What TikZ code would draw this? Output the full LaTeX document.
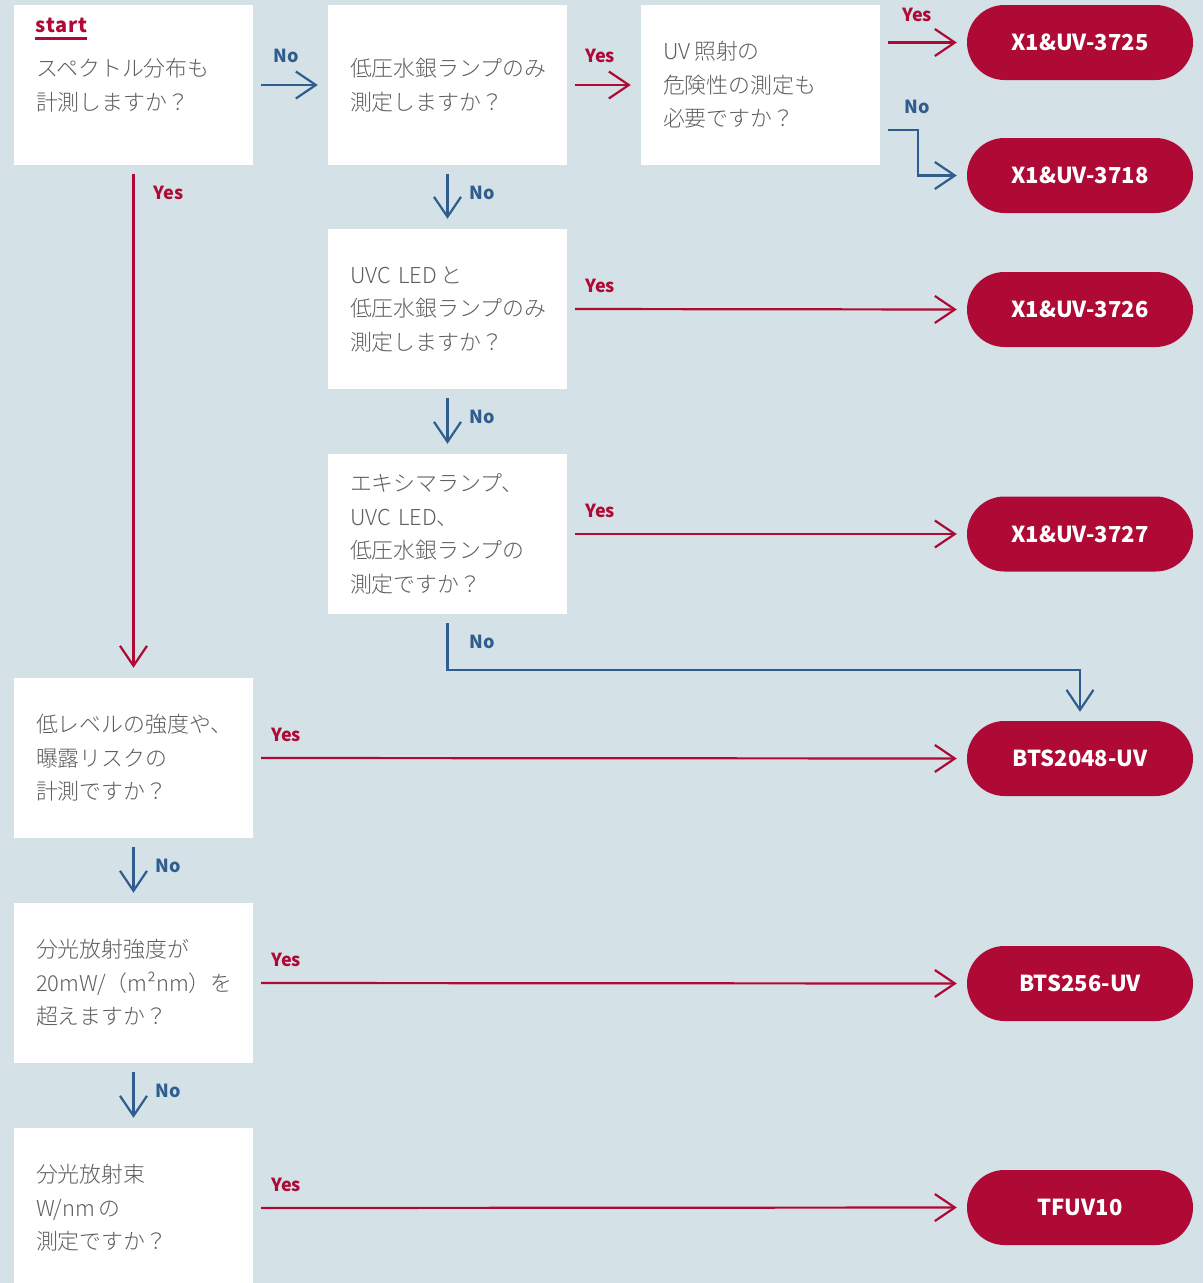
\documentclass[tikz,border=0pt]{standalone}
\usepackage{fontspec}
\setmainfont{Noto Sans CJK JP}
\newfontfamily\qfont{Noto Sans CJK JP Light}
\usetikzlibrary{arrows.meta}
\definecolor{bgblue}{HTML}{D4E1E7}
\definecolor{uvred}{HTML}{AE0A35}
\definecolor{uvblue}{HTML}{2F5E8E}
\definecolor{qgray}{HTML}{5E5E5E}
\begin{document}
\begin{tikzpicture}[x=1pt,y=-1pt,
  question/.style={fill=white, minimum width=239pt, minimum height=160pt, inner xsep=22pt,
    text width=195pt, align=left, text=qgray, font=\qfont\fontsize{21.9}{33.5}\selectfont},
  product/.style={fill=uvred, rounded corners=37.5pt, minimum width=226pt, minimum height=75pt,
    text=white, font=\fontsize{22}{26}\selectfont\bfseries},
  yesarrow/.style={draw=uvred, line width=2.2pt, -{Straight Barb[length=20pt,width=27pt]},
    shorten <=8pt, shorten >=10pt},
  noarrow/.style={yesarrow, draw=uvblue},
  yeslbl/.style={text=uvred, font=\fontsize{18}{20}\selectfont\bfseries},
  nolbl/.style={yeslbl, text=uvblue}]
  \useasboundingbox (0,0) rectangle (1203,1283);
  \fill[bgblue] (0,0) rectangle (1203,1283);

  \node[question] (q1) at (133.5,85) {スペクトル分布も\\計測しますか？};
  \node[question] (q2) at (447.5,85) {低圧水銀ランプのみ\\測定しますか？};
  \node[question] (q3) at (760.5,85) {UV\,照射の\\危険性の測定も\\必要ですか？};
  \node[question] (q4) at (447.5,309) {UVC LED\,と\\低圧水銀ランプのみ\\測定しますか？};
  \node[question] (q5) at (447.5,534) {エキシマランプ、\\UVC LED、\\低圧水銀ランプの\\測定ですか？};
  \node[question] (q6) at (133.5,758) {低レベルの強度や、\\曝露リスクの\\計測ですか？};
  \node[question] (q7) at (133.5,983) {分光放射強度が\\20mW/（m²nm）を\\超えますか？};
  \node[question] (q8) at (133.5,1208) {分光放射束\\W/nm\,の\\測定ですか？};

  \node[anchor=base west, inner sep=0pt, text=uvred, font=\fontsize{20}{22}\selectfont\bfseries]
    (start) at (35,32) {s\kern.6pt t\kern.6pt a\kern.6pt r\kern.6pt t};
  \draw[uvred, line width=3pt] ([yshift=-6.5pt]start.base west) -- ([yshift=-6.5pt]start.base east);

  \node[product] (p1) at (1080,42.5) {X1\&UV-3725};
  \node[product] (p2) at (1080,175.5) {X1\&UV-3718};
  \node[product] (p3) at (1080,309.5) {X1\&UV-3726};
  \node[product] (p4) at (1080,534) {X1\&UV-3727};
  \node[product] (p5) at (1080,758.5) {BTS2048-UV};
  \node[product] (p6) at (1080,983.5) {BTS256-UV};
  \node[product] (p7) at (1080,1207.5) {TFUV10};

  \draw[noarrow] (q1.east) -- node[nolbl, pos=0, xshift=33pt, yshift=29pt] (n12) {No} (q2.west);
  \draw[yesarrow] (q2.east) -- node[yeslbl, pos=0, xshift=33pt, yshift=29pt] (y23) {Yes} (q3.west);
  \draw[yesarrow] (q3.east |- p1.west) -- node[yeslbl, pos=0, xshift=37pt, yshift=28pt] (y3) {Yes} (p1.west);
  \draw[noarrow] ([yshift=-45pt]q3.east) -- node[nolbl, pos=0, xshift=37pt, yshift=23pt] (n3) {No}
    ++(38,0) |- (p2.west);
  \draw[yesarrow, shorten <=9pt] (q1.south) -- node[yeslbl, pos=0, anchor=west, xshift=16pt, yshift=-28pt] (y16) {Yes} (q6.north);
  \draw[noarrow, shorten <=9pt] (q2.south) -- node[nolbl, pos=0, anchor=west, xshift=18pt, yshift=-28pt] (n24) {No} (q4.north);
  \draw[yesarrow] (q4.east) -- node[yeslbl, pos=0, xshift=33pt, yshift=23pt] (y4) {Yes} (p3.west);
  \draw[noarrow, shorten <=9pt] (q4.south) -- node[nolbl, pos=0, anchor=west, xshift=18pt, yshift=-28pt] (n45) {No} (q5.north);
  \draw[yesarrow] (q5.east) -- node[yeslbl, pos=0, xshift=33pt, yshift=23pt] (y5) {Yes} (p4.west);
  \draw[noarrow, shorten <=9pt, shorten >=9pt] (q5.south) -- node[nolbl, pos=0, anchor=west, xshift=18pt, yshift=-28pt] (n5) {No}
    ++(0,56) -| (p5.north);
  \draw[yesarrow] (q6.east) -- node[yeslbl, pos=0, xshift=33pt, yshift=23pt] (y6) {Yes} (p5.west);
  \draw[noarrow, shorten <=9pt] (q6.south) -- node[nolbl, pos=0, anchor=west, xshift=18pt, yshift=-28pt] (n67) {No} (q7.north);
  \draw[yesarrow] (q7.east) -- node[yeslbl, pos=0, xshift=33pt, yshift=23pt] (y7) {Yes} (p6.west);
  \draw[noarrow, shorten <=9pt] (q7.south) -- node[nolbl, pos=0, anchor=west, xshift=18pt, yshift=-28pt] (n78) {No} (q8.north);
  \draw[yesarrow] (q8.east) -- node[yeslbl, pos=0, xshift=33pt, yshift=23pt] (y8) {Yes} (p7.west);
\end{tikzpicture}
\end{document}
